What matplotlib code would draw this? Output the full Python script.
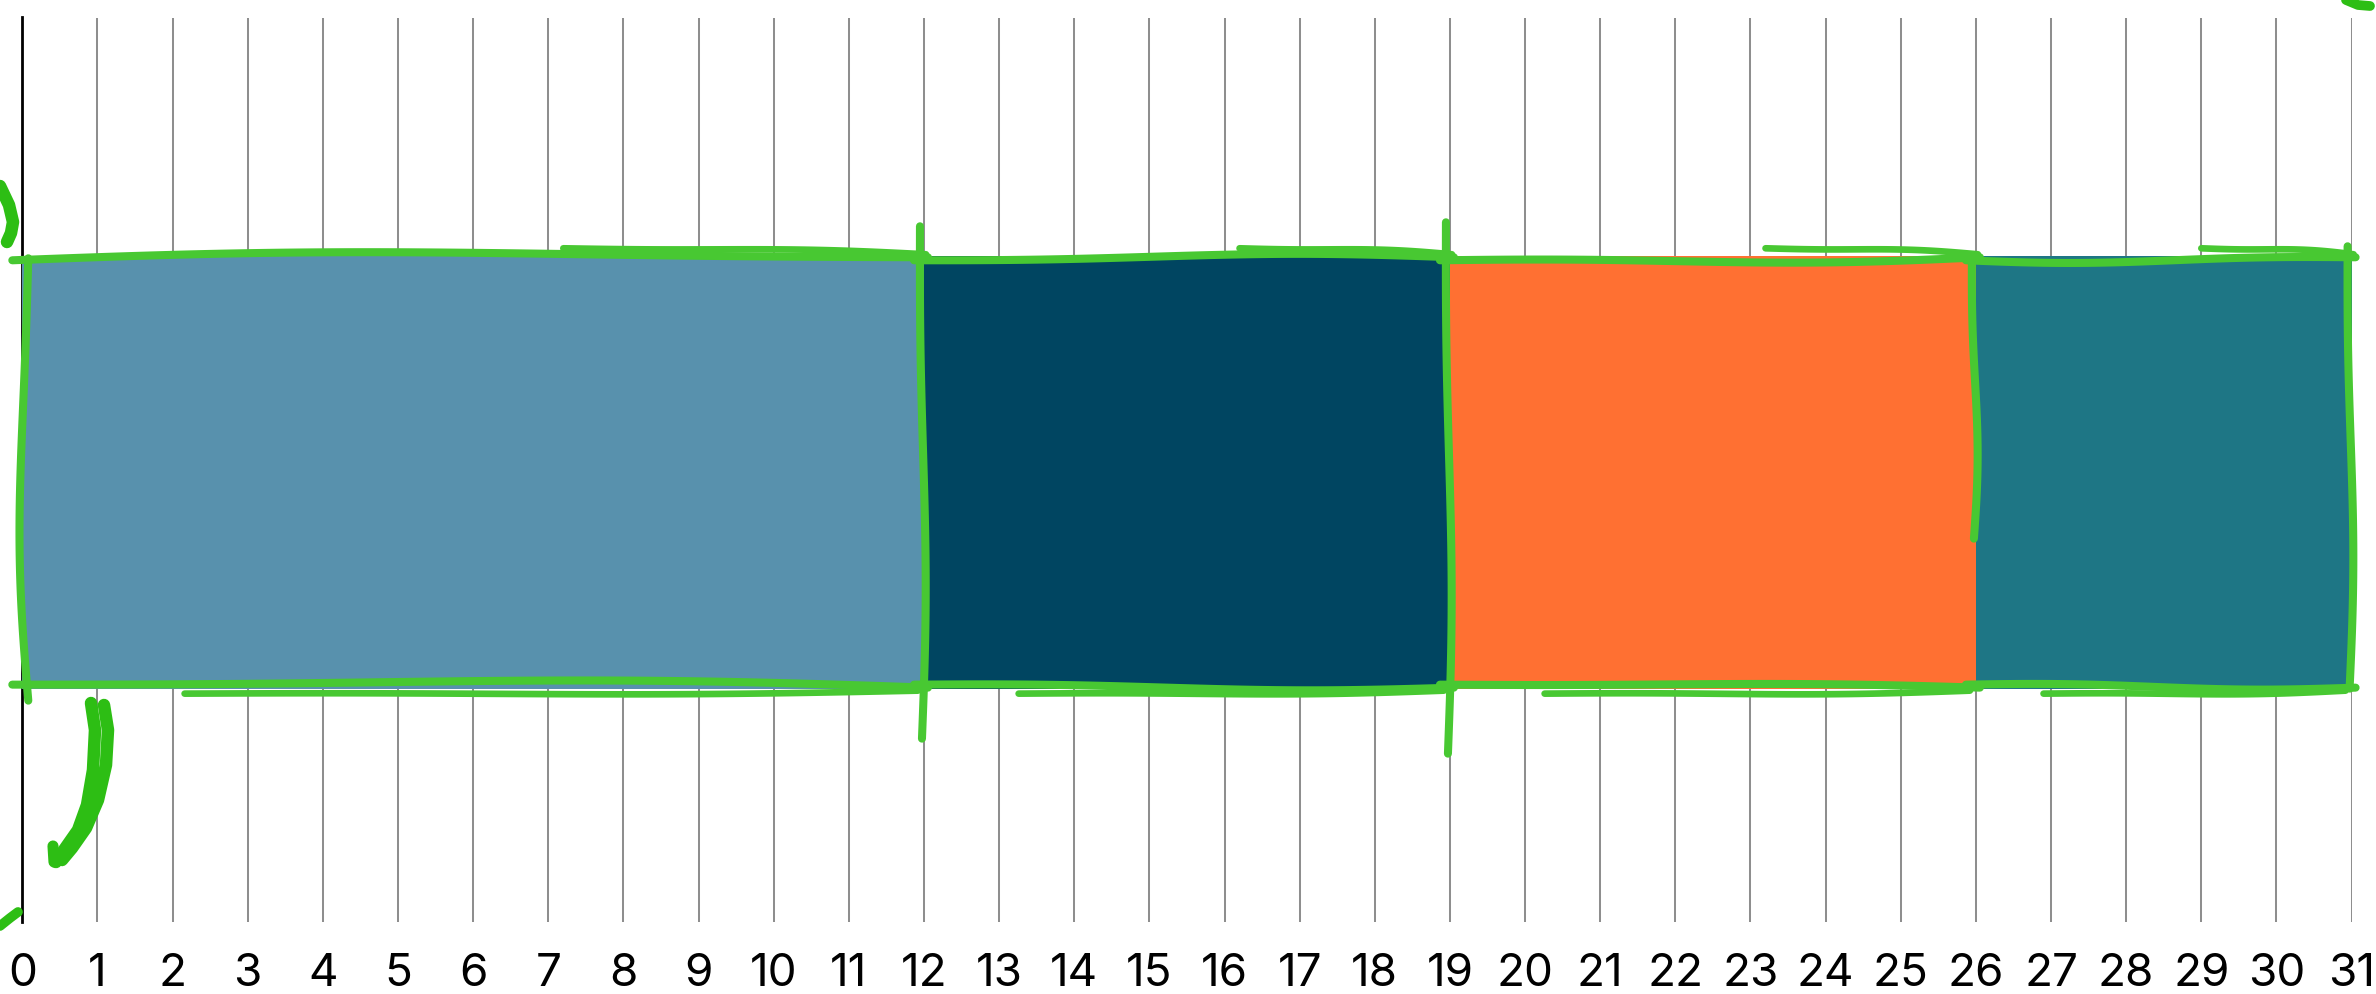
import numpy as np
import matplotlib
matplotlib.use("Agg")
import matplotlib.pyplot as plt

# ---------------- data ----------------
seg_starts = [0, 12, 19, 26]
seg_values = [12, 7, 7, 5]
seg_colors = ["#5891AD", "#004561", "#FF7032", "#1E7685"]
tick_values = list(range(0, 32))
tick_labels = [str(t) for t in tick_values]

# ---------------- figure ----------------
W, H, DPI = 2376, 994, 100
plt.rcParams['font.family'] = ['Inter', 'DejaVu Sans']
fig = plt.figure(figsize=(W / DPI, H / DPI), dpi=DPI)
fig.patch.set_facecolor('white')

ax_left, ax_right, ax_top, ax_bottom = 22.3, 2351.6, 17.5, 922.0
ax = fig.add_axes([ax_left / W, 1 - ax_bottom / H,
                   (ax_right - ax_left) / W, (ax_bottom - ax_top) / H])
ax.set_xlim(tick_values[0], tick_values[-1])
ylim = (-0.497, 0.503)
ax.set_ylim(*ylim)
bar_h = 0.478

ax.barh([0] * len(seg_values), seg_values, left=seg_starts, height=bar_h,
        color=seg_colors, zorder=2, linewidth=0)

ax.set_xticks(tick_values)
ax.set_xticklabels(tick_labels)
ax.set_yticks([])
ax.grid(axis='x', color='#8e8e8e', linewidth=1.45, zorder=1)
ax.set_axisbelow(True)
for s in ['top', 'right', 'bottom']:
    ax.spines[s].set_visible(False)
ax.spines['left'].set_color('black')
ax.spines['left'].set_linewidth(2.0)
ax.spines['left'].set_zorder(1.5)
ax.tick_params(axis='x', length=0, pad=22, labelsize=33, labelcolor='black')

# ---------------- rough (hand-drawn) outlines ----------------
GREEN = '#48C832'
DARK_GREEN = '#2DBE14'
sx = (ax_right - ax_left) / (tick_values[-1] - tick_values[0])   # px per x unit
sy = (ax_bottom - ax_top) / (ylim[1] - ylim[0])                   # px per y unit


def rough(x0, y0, x1, y1, bow=0.0, wave=0.0, lw=5.8, color=GREEN):
    """Smooth hand-drawn stroke between two data points; bow/wave in pixels."""
    t = np.linspace(0, 1, 80)
    X = (x0 + (x1 - x0) * t) * sx
    Y = (y0 + (y1 - y0) * t) * sy
    dx, dy = (x1 - x0) * sx, (y1 - y0) * sy
    L = np.hypot(dx, dy)
    nx, ny = -dy / L, dx / L
    off = bow * np.sin(np.pi * t) + wave * np.sin(2 * np.pi * t)
    X = X + nx * off
    Y = Y + ny * off
    ax.plot(X / sx, Y / sy, color=color, lw=lw, solid_capstyle='round',
            solid_joinstyle='round', zorder=3, clip_on=False)


top = bar_h / 2
bot = -bar_h / 2
px = 1.0 / sy  # one pixel in y data units
ux = 1.0 / sx  # one pixel in x data units

# per-segment stroke style (pixel offsets), hand-drawn look
top_bow = [6, 3, -3, -2]
top_wave = [2, -2, 2, -2]
bot_bow = [5, -2, 2, -1]
bot_wave = [-2, 2, -1, 2]
right_ext_top = [30, 34, 0, 10]
right_ext_bot = [50, 65, -150, 0]

for i, (s, v) in enumerate(zip(seg_starts, seg_values)):
    x0, x1 = s, s + v
    # top edge (double stroke)
    rough(x0 - 10 * ux, top - 4 * px, x1 + 4 * ux, top - 1 * px,
          bow=top_bow[i], wave=top_wave[i])
    rough(x0 + 0.6 * v, top + 8 * px, x1 + 2 * ux, top + 2 * px,
          bow=2, wave=-1, lw=4.8)
    # bottom edge (double stroke)
    rough(x0 - 10 * ux, bot + 4 * px, x1 + 4 * ux, bot + 1 * px,
          bow=bot_bow[i], wave=bot_wave[i])
    rough(x0 + 0.18 * v, bot - 5 * px, x1 - 6 * ux, bot - 2 * px,
          bow=-2, wave=1, lw=4.8)
    # left edge of the first segment
    if i == 0:
        rough(x0 + 6 * ux, top - 2 * px, x0 + 6 * ux, bot - 12 * px,
              bow=-8, wave=2)
    # right edge (boundary)
    rough(x1 - 4 * ux, top + right_ext_top[i] * px,
          x1 - 2 * ux, bot - right_ext_bot[i] * px, bow=3, wave=-2)

# ---------------- decorative squiggles (figure pixel coords) ----------------
def squiggle(pxs, pys, lw=8.5):
    fx = [p / W for p in pxs]
    fy = [1 - p / H for p in pys]
    ln = plt.Line2D(fx, fy, transform=fig.transFigure, color=DARK_GREEN, lw=lw,
                    solid_capstyle='round', solid_joinstyle='round', zorder=4)
    fig.add_artist(ln)

squiggle([0, 9, 13, 11, 7], [186, 205, 222, 233, 242], lw=9)
squiggle([91, 95, 93, 87, 78, 64, 56], [703, 730, 770, 805, 830, 850, 862], lw=9)
squiggle([104, 108, 106, 98, 86, 72, 62], [705, 730, 765, 800, 828, 848, 860], lw=9)
squiggle([53, 54], [846, 862], lw=8)
squiggle([0, 10, 18], [926, 918, 912], lw=7)
squiggle([2346, 2358, 2370], [0, 5, 6], lw=7)

fig.savefig('out.png', dpi=DPI, facecolor='white')
